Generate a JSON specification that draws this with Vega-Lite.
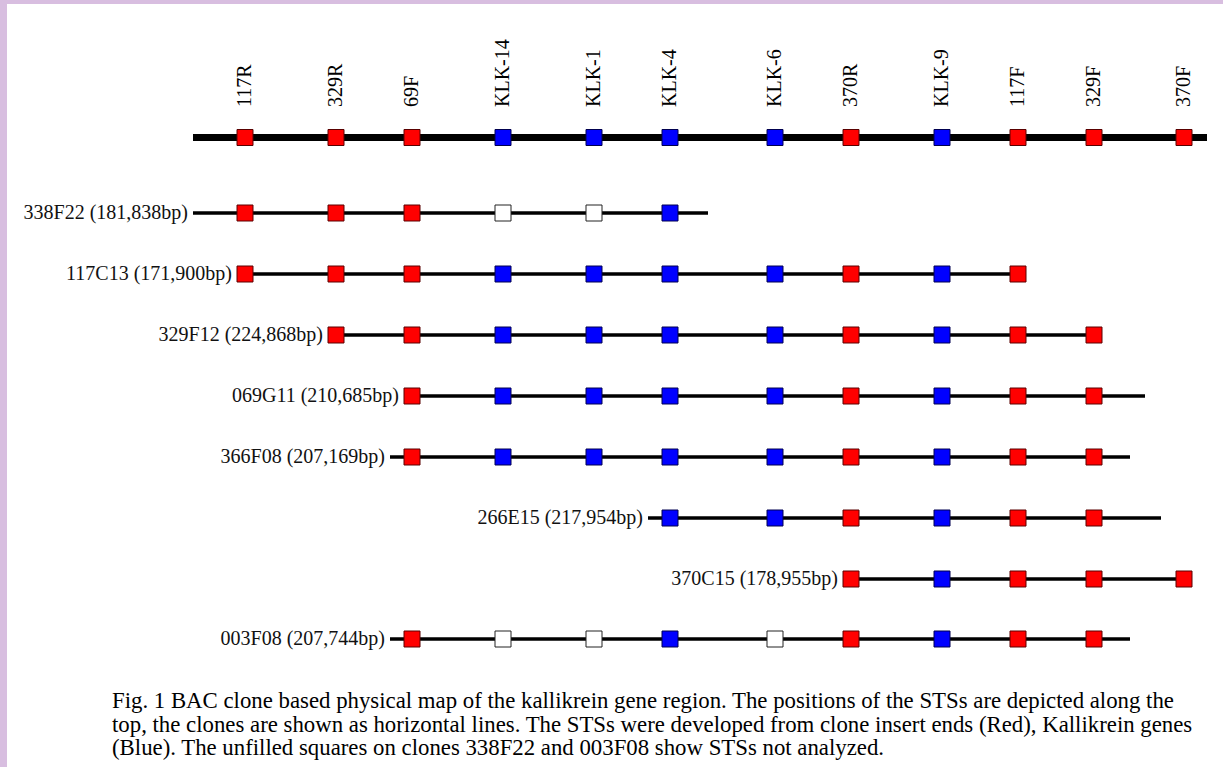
{
  "$schema": "https://vega.github.io/schema/vega-lite/v6.json",
  "width": 1223,
  "height": 767,
  "autosize": {"type": "fit", "contains": "padding"},
  "padding": {"left": 7, "top": 4, "right": 0, "bottom": 0},
  "background": "#d8bee0",
  "config": {"view": {"fill": "white", "stroke": null}, "font": "Liberation Serif"},
  "datasets": {
    "sts": [
      {"sts": "117R", "pos": 245, "kind": "clone end"},
      {"sts": "329R", "pos": 336, "kind": "clone end"},
      {"sts": "69F", "pos": 412, "kind": "clone end"},
      {"sts": "KLK-14", "pos": 503, "kind": "kallikrein"},
      {"sts": "KLK-1", "pos": 594, "kind": "kallikrein"},
      {"sts": "KLK-4", "pos": 670, "kind": "kallikrein"},
      {"sts": "KLK-6", "pos": 775, "kind": "kallikrein"},
      {"sts": "370R", "pos": 851, "kind": "clone end"},
      {"sts": "KLK-9", "pos": 942, "kind": "kallikrein"},
      {"sts": "117F", "pos": 1018, "kind": "clone end"},
      {"sts": "329F", "pos": 1094, "kind": "clone end"},
      {"sts": "370F", "pos": 1184, "kind": "clone end"}
    ],
    "clones": [
      {"clone": "338F22 (181,838bp)", "track": 213, "start": 193, "end": 708},
      {"clone": "117C13 (171,900bp)", "track": 274, "start": 237, "end": 1018},
      {"clone": "329F12 (224,868bp)", "track": 335, "start": 328, "end": 1094},
      {"clone": "069G11 (210,685bp)", "track": 396, "start": 404, "end": 1145},
      {"clone": "366F08 (207,169bp)", "track": 457, "start": 390, "end": 1130},
      {"clone": "266E15 (217,954bp)", "track": 518, "start": 648, "end": 1161},
      {"clone": "370C15 (178,955bp)", "track": 579, "start": 843, "end": 1184},
      {"clone": "003F08 (207,744bp)", "track": 639, "start": 390, "end": 1130}
    ],
    "markers": [
      {"track": 137.5, "pos": 245, "status": "clone end"},
      {"track": 137.5, "pos": 336, "status": "clone end"},
      {"track": 137.5, "pos": 412, "status": "clone end"},
      {"track": 137.5, "pos": 503, "status": "kallikrein"},
      {"track": 137.5, "pos": 594, "status": "kallikrein"},
      {"track": 137.5, "pos": 670, "status": "kallikrein"},
      {"track": 137.5, "pos": 775, "status": "kallikrein"},
      {"track": 137.5, "pos": 851, "status": "clone end"},
      {"track": 137.5, "pos": 942, "status": "kallikrein"},
      {"track": 137.5, "pos": 1018, "status": "clone end"},
      {"track": 137.5, "pos": 1094, "status": "clone end"},
      {"track": 137.5, "pos": 1184, "status": "clone end"},

      {"track": 213, "pos": 245, "status": "clone end"},
      {"track": 213, "pos": 336, "status": "clone end"},
      {"track": 213, "pos": 412, "status": "clone end"},
      {"track": 213, "pos": 503, "status": "not analyzed"},
      {"track": 213, "pos": 594, "status": "not analyzed"},
      {"track": 213, "pos": 670, "status": "kallikrein"},

      {"track": 274, "pos": 245, "status": "clone end"},
      {"track": 274, "pos": 336, "status": "clone end"},
      {"track": 274, "pos": 412, "status": "clone end"},
      {"track": 274, "pos": 503, "status": "kallikrein"},
      {"track": 274, "pos": 594, "status": "kallikrein"},
      {"track": 274, "pos": 670, "status": "kallikrein"},
      {"track": 274, "pos": 775, "status": "kallikrein"},
      {"track": 274, "pos": 851, "status": "clone end"},
      {"track": 274, "pos": 942, "status": "kallikrein"},
      {"track": 274, "pos": 1018, "status": "clone end"},

      {"track": 335, "pos": 336, "status": "clone end"},
      {"track": 335, "pos": 412, "status": "clone end"},
      {"track": 335, "pos": 503, "status": "kallikrein"},
      {"track": 335, "pos": 594, "status": "kallikrein"},
      {"track": 335, "pos": 670, "status": "kallikrein"},
      {"track": 335, "pos": 775, "status": "kallikrein"},
      {"track": 335, "pos": 851, "status": "clone end"},
      {"track": 335, "pos": 942, "status": "kallikrein"},
      {"track": 335, "pos": 1018, "status": "clone end"},
      {"track": 335, "pos": 1094, "status": "clone end"},

      {"track": 396, "pos": 412, "status": "clone end"},
      {"track": 396, "pos": 503, "status": "kallikrein"},
      {"track": 396, "pos": 594, "status": "kallikrein"},
      {"track": 396, "pos": 670, "status": "kallikrein"},
      {"track": 396, "pos": 775, "status": "kallikrein"},
      {"track": 396, "pos": 851, "status": "clone end"},
      {"track": 396, "pos": 942, "status": "kallikrein"},
      {"track": 396, "pos": 1018, "status": "clone end"},
      {"track": 396, "pos": 1094, "status": "clone end"},

      {"track": 457, "pos": 412, "status": "clone end"},
      {"track": 457, "pos": 503, "status": "kallikrein"},
      {"track": 457, "pos": 594, "status": "kallikrein"},
      {"track": 457, "pos": 670, "status": "kallikrein"},
      {"track": 457, "pos": 775, "status": "kallikrein"},
      {"track": 457, "pos": 851, "status": "clone end"},
      {"track": 457, "pos": 942, "status": "kallikrein"},
      {"track": 457, "pos": 1018, "status": "clone end"},
      {"track": 457, "pos": 1094, "status": "clone end"},

      {"track": 518, "pos": 670, "status": "kallikrein"},
      {"track": 518, "pos": 775, "status": "kallikrein"},
      {"track": 518, "pos": 851, "status": "clone end"},
      {"track": 518, "pos": 942, "status": "kallikrein"},
      {"track": 518, "pos": 1018, "status": "clone end"},
      {"track": 518, "pos": 1094, "status": "clone end"},

      {"track": 579, "pos": 851, "status": "clone end"},
      {"track": 579, "pos": 942, "status": "kallikrein"},
      {"track": 579, "pos": 1018, "status": "clone end"},
      {"track": 579, "pos": 1094, "status": "clone end"},
      {"track": 579, "pos": 1184, "status": "clone end"},

      {"track": 639, "pos": 412, "status": "clone end"},
      {"track": 639, "pos": 503, "status": "not analyzed"},
      {"track": 639, "pos": 594, "status": "not analyzed"},
      {"track": 639, "pos": 670, "status": "kallikrein"},
      {"track": 639, "pos": 775, "status": "not analyzed"},
      {"track": 639, "pos": 851, "status": "clone end"},
      {"track": 639, "pos": 942, "status": "kallikrein"},
      {"track": 639, "pos": 1018, "status": "clone end"},
      {"track": 639, "pos": 1094, "status": "clone end"}
    ],
    "map": [{"start": 193, "end": 1207, "track": 137.5}],
    "caption": [
      {"text": "Fig. 1 BAC clone based physical map of the kallikrein gene region. The positions of the STSs are depicted along the\ntop, the clones are shown as horizontal lines. The STSs were developed from clone insert ends (Red), Kallikrein genes\n(Blue). The unfilled squares on clones 338F22 and 003F08 show STSs not analyzed."}
    ]
  },
  "layer": [
    {
      "data": {"name": "map"},
      "mark": {"type": "rule", "strokeWidth": 7, "color": "black"},
      "encoding": {
        "x": {"field": "start", "type": "quantitative", "scale": {"domain": [7, 1223], "nice": false, "zero": false}, "axis": null},
        "x2": {"field": "end"},
        "y": {"field": "track", "type": "quantitative", "scale": {"domain": [4, 767], "nice": false, "zero": false, "reverse": true}, "axis": null}
      }
    },
    {
      "data": {"name": "clones"},
      "mark": {"type": "rule", "strokeWidth": 3.5, "color": "black"},
      "encoding": {
        "x": {"field": "start", "type": "quantitative"},
        "x2": {"field": "end"},
        "y": {"field": "track", "type": "quantitative"}
      }
    },
    {
      "data": {"name": "clones"},
      "mark": {"type": "text", "align": "right", "baseline": "middle", "dx": -5, "fontSize": 20, "font": "Liberation Serif", "color": "#111"},
      "encoding": {
        "x": {"field": "start", "type": "quantitative"},
        "y": {"field": "track", "type": "quantitative"},
        "text": {"field": "clone"}
      }
    },
    {
      "data": {"name": "markers"},
      "mark": {"type": "point", "shape": "square", "size": 256, "filled": true, "strokeWidth": 1, "opacity": 1},
      "encoding": {
        "x": {"field": "pos", "type": "quantitative"},
        "y": {"field": "track", "type": "quantitative"},
        "fill": {"field": "status", "type": "nominal", "scale": {"domain": ["clone end", "kallikrein", "not analyzed"], "range": ["#ff0000", "#0000ff", "#ffffff"]}, "legend": null},
        "stroke": {"field": "status", "type": "nominal", "scale": {"domain": ["clone end", "kallikrein", "not analyzed"], "range": ["#5a0000", "#000050", "#222222"]}, "legend": null}
      }
    },
    {
      "data": {"name": "sts"},
      "mark": {"type": "text", "angle": 270, "align": "left", "baseline": "middle", "fontSize": 20, "font": "Liberation Serif", "color": "#000"},
      "encoding": {
        "x": {"field": "pos", "type": "quantitative"},
        "y": {"datum": 107, "type": "quantitative"},
        "text": {"field": "sts"}
      }
    },
    {
      "data": {"name": "caption"},
      "mark": {"type": "text", "align": "left", "baseline": "alphabetic", "lineBreak": "\n", "lineHeight": 23.5, "fontSize": 22.8, "font": "Liberation Serif", "color": "#000"},
      "encoding": {
        "x": {"datum": 112, "type": "quantitative"},
        "y": {"datum": 708, "type": "quantitative"},
        "text": {"field": "text"}
      }
    }
  ]
}
